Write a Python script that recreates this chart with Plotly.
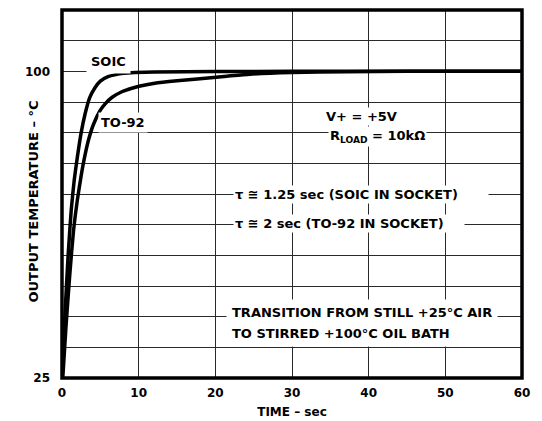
import plotly.graph_objects as go

# ---- data ----
soic_t = [0, 0.4, 0.8, 1.2, 1.6, 2.0, 2.5, 3.0, 3.6, 4.3, 5.0, 6.0, 7.0, 8.0, 9.5, 12, 20, 30, 60]
soic_T = [25, 41, 55, 66, 73.5, 79, 85, 89.5, 93.5, 96, 97.6, 98.7, 99.2, 99.5, 99.7, 99.85, 99.95, 100, 100]

to92_t = [0.1, 0.5, 1.0, 1.5, 2.0, 2.5, 3.0, 3.5, 4.1, 5.0, 5.6, 6.5, 7.8, 9.0, 10.2, 12.1, 15, 18, 21.5, 24.5, 30, 37, 45, 60]
to92_T = [25, 37, 50, 61, 68.5, 74.5, 79.5, 83.5, 87, 90.5, 92, 93.6, 95.0, 95.8, 96.4, 97.1, 97.7, 98.2, 98.8, 99.3, 99.7, 99.9, 100, 100]

x_ticks = [0, 10, 20, 30, 40, 50, 60]
y_ticks = [25, 100]
y_range = [25, 115]
y_grid_step = 7.5

FONT = "DejaVu Sans"
fig = go.Figure()

for t, T in [(soic_t, soic_T), (to92_t, to92_T)]:
    fig.add_trace(go.Scatter(
        x=t, y=T, mode="lines",
        line=dict(color="black", width=3.5, shape="spline", smoothing=0.5),
        showlegend=False, hoverinfo="skip"))

grid_col = "#2a2a2a"
fig.update_xaxes(
    range=[0, 60], tickvals=x_ticks, ticktext=[str(v) for v in x_ticks],
    showgrid=True, gridcolor=grid_col, gridwidth=1, zeroline=False, showline=False,
    ticks="", ticklabelstandoff=6,
    tickfont=dict(family=FONT, size=12, color="black", weight="bold"),
    title=dict(text="TIME – sec", font=dict(family=FONT, size=12, color="black", weight="bold"), standoff=8),
    automargin=False, fixedrange=True)
fig.update_yaxes(
    range=y_range, tickvals=y_ticks, ticktext=[str(v) for v in y_ticks],
    showgrid=True, gridcolor=grid_col, gridwidth=1, zeroline=False, showline=False,
    ticks="", ticklabelstandoff=11,
    minor=dict(tick0=25, dtick=y_grid_step, showgrid=True, gridcolor=grid_col, gridwidth=1, ticks=""),
    tickfont=dict(family=FONT, size=12, color="black", weight="bold"),
    automargin=False, fixedrange=True)

fig.add_shape(type="rect", xref="paper", yref="paper", x0=0, y0=0, x1=1, y1=1,
              line=dict(color="black", width=3.5), layer="above")

# y-axis title placed as a rotated annotation for precise positioning
fig.add_annotation(text="OUTPUT TEMPERATURE – °C", xref="paper", yref="paper", x=0, y=0.5,
                   xshift=-39, yshift=-8, textangle=-90, showarrow=False,
                   font=dict(family=FONT, size=13, color="black", weight="bold"))

af = dict(family=FONT, size=13, color="black", weight="bold")
def ann(text, x, y, **kw):
    d = dict(text=text, x=x, y=y, xref="x", yref="y", showarrow=False,
             font=af, bgcolor="white", borderpad=3)
    d.update(kw)
    fig.add_annotation(**d)

ann("SOIC", 6.0, 102.4, borderpad=4)
ann("TO-92", 7.96, 87.6, borderpad=2)
ann("V+ = +5V", 39.1, 86.6, yanchor="bottom", borderpad=1)
ann("R<sub>LOAD</sub> = 10kΩ", 41.2, 86.6, yanchor="top", borderpad=1)
ann("τ ≅ 1.25 sec (SOIC IN SOCKET)", 22.3, 70.0, xanchor="left", align="left", width=252, borderpad=1)
ann("τ ≅ 2 sec (TO-92 IN SOCKET)", 22.3, 62.9, xanchor="left", align="left", width=228, borderpad=1)
ann("TRANSITION FROM STILL +25°C AIR", 21.4, 41.0, xanchor="left", align="left", borderpad=5)
ann("TO STIRRED +100°C OIL BATH", 21.4, 35.9, xanchor="left", align="left", borderpad=5)

fig.update_layout(
    width=534, height=413, template="none",
    margin=dict(l=54, r=20, t=2, b=43, autoexpand=False),
    paper_bgcolor="white", plot_bgcolor="white",
    font=dict(family=FONT, color="black"),
    showlegend=False)

fig.write_html("out.html")
